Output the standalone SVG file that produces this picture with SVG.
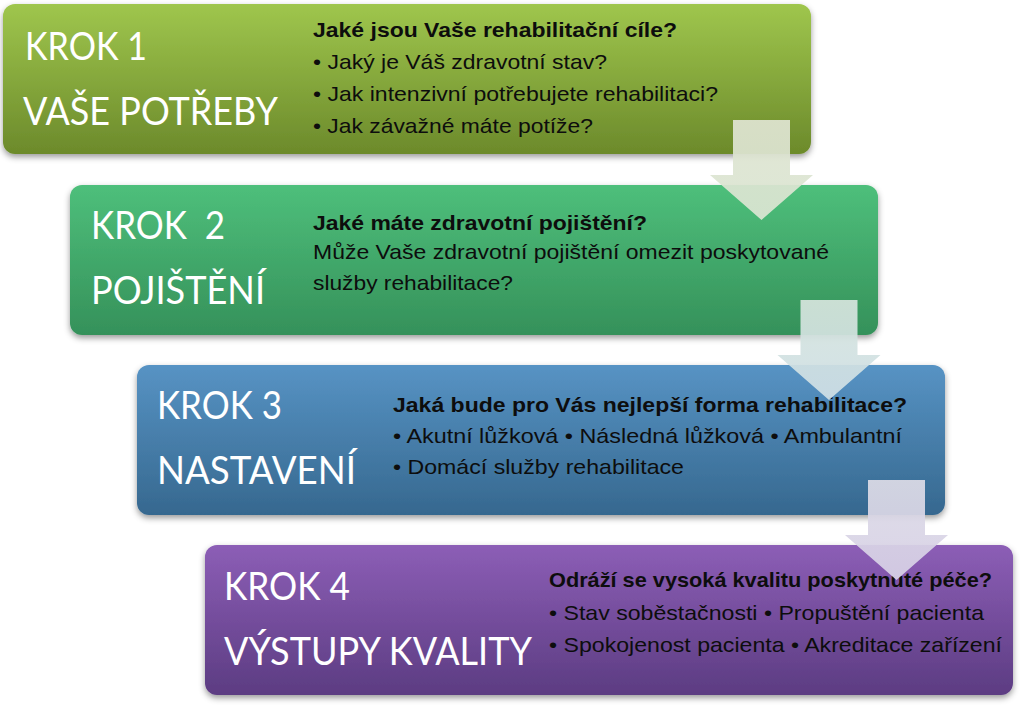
<svg xmlns="http://www.w3.org/2000/svg" width="1023" height="715" viewBox="0 0 1023 715">
<defs>
<linearGradient id="g1" x1="0" y1="0" x2="0" y2="1"><stop offset="0" stop-color="#9fc64d"/><stop offset="1" stop-color="#6c8a2b"/></linearGradient>
<linearGradient id="g2" x1="0" y1="0" x2="0" y2="1"><stop offset="0" stop-color="#4ebf7b"/><stop offset="1" stop-color="#35915a"/></linearGradient>
<linearGradient id="g3" x1="0" y1="0" x2="0" y2="1"><stop offset="0" stop-color="#5793c4"/><stop offset="1" stop-color="#36688f"/></linearGradient>
<linearGradient id="g4" x1="0" y1="0" x2="0" y2="1"><stop offset="0" stop-color="#8c5eb6"/><stop offset="1" stop-color="#5c3c82"/></linearGradient>
<linearGradient id="a1" x1="0" y1="0" x2="0" y2="1"><stop offset="0" stop-color="#dfe4d1"/><stop offset="1" stop-color="#dae5d2"/></linearGradient>
<linearGradient id="a2" x1="0" y1="0" x2="0" y2="1"><stop offset="0" stop-color="#d5e4dc"/><stop offset="1" stop-color="#cfdfe6"/></linearGradient>
<linearGradient id="a3" x1="0" y1="0" x2="0" y2="1"><stop offset="0" stop-color="#dcdbe6"/><stop offset="1" stop-color="#d7d0e6"/></linearGradient>
<filter id="sh" x="-5%" y="-10%" width="110%" height="130%"><feDropShadow dx="0" dy="3" stdDeviation="3" flood-color="#000" flood-opacity="0.4"/></filter>
</defs>
<style>
.box{filter:url(#sh)}
.title{font-family:Lato,"Open Sans","Liberation Sans",sans-serif;font-size:39px;fill:#fff}
.head{font-family:"Liberation Sans",Arial,sans-serif;font-size:21px;font-weight:bold;fill:#0d0d0d}
.body{font-family:"Liberation Sans",Arial,sans-serif;font-size:21px;fill:#0d0d0d}
.arrow{opacity:0.93}
</style>
<rect width="1023" height="715" fill="#fff"/>
<g id="step1">
<rect class="box" x="3" y="4" width="808" height="150" rx="12" fill="url(#g1)"/>
<text class="title" x="25" y="60" textLength="122" lengthAdjust="spacingAndGlyphs">KROK 1</text>
<text class="title" x="23" y="125" textLength="255" lengthAdjust="spacingAndGlyphs">VAŠE POTŘEBY</text>
<text class="head" x="313" y="37" textLength="364" lengthAdjust="spacingAndGlyphs">Jaké jsou Vaše rehabilitační cíle?</text>
<text class="body" x="313" y="69" textLength="294" lengthAdjust="spacingAndGlyphs">• Jaký je Váš zdravotní stav?</text>
<text class="body" x="313" y="101" textLength="405" lengthAdjust="spacingAndGlyphs">• Jak intenzivní potřebujete rehabilitaci?</text>
<text class="body" x="313" y="133" textLength="280" lengthAdjust="spacingAndGlyphs">• Jak závažné máte potíže?</text>
</g>
<g id="step2">
<rect class="box" x="70" y="185" width="808" height="150" rx="12" fill="url(#g2)"/>
<text class="title" x="91" y="239" textLength="134" lengthAdjust="spacingAndGlyphs" xml:space="preserve">KROK  2</text>
<text class="title" x="91" y="304" textLength="174" lengthAdjust="spacingAndGlyphs">POJIŠTĚNÍ</text>
<text class="head" x="313" y="230" textLength="334" lengthAdjust="spacingAndGlyphs">Jaké máte zdravotní pojištění?</text>
<text class="body" x="313" y="259" textLength="516" lengthAdjust="spacingAndGlyphs">Může Vaše zdravotní pojištění omezit poskytované</text>
<text class="body" x="313" y="290" textLength="200" lengthAdjust="spacingAndGlyphs">služby rehabilitace?</text>
</g>
<g id="step3">
<rect class="box" x="137" y="365" width="808" height="150" rx="12" fill="url(#g3)"/>
<text class="title" x="157" y="419" textLength="125" lengthAdjust="spacingAndGlyphs">KROK 3</text>
<text class="title" x="157" y="484" textLength="199" lengthAdjust="spacingAndGlyphs">NASTAVENÍ</text>
<text class="head" x="393" y="412" textLength="514" lengthAdjust="spacingAndGlyphs">Jaká bude pro Vás nejlepší forma rehabilitace?</text>
<text class="body" x="393" y="443" textLength="509" lengthAdjust="spacingAndGlyphs">• Akutní lůžková • Následná lůžková • Ambulantní</text>
<text class="body" x="393" y="474" textLength="291" lengthAdjust="spacingAndGlyphs">• Domácí služby rehabilitace</text>
</g>
<g id="step4">
<rect class="box" x="205" y="545" width="808" height="150" rx="12" fill="url(#g4)"/>
<text class="title" x="224" y="600" textLength="126" lengthAdjust="spacingAndGlyphs">KROK 4</text>
<text class="title" x="224" y="665" textLength="308" lengthAdjust="spacingAndGlyphs">VÝSTUPY KVALITY</text>
<text class="head" x="549" y="587" textLength="443" lengthAdjust="spacingAndGlyphs">Odráží se vysoká kvalitu poskytnuté péče?</text>
<text class="body" x="549" y="620" textLength="435" lengthAdjust="spacingAndGlyphs">• Stav soběstačnosti • Propuštění pacienta</text>
<text class="body" x="549" y="652" textLength="453" lengthAdjust="spacingAndGlyphs">• Spokojenost pacienta • Akreditace zařízení</text>
</g>
<g id="connectors">
<path class="arrow" d="M733,120 H790 V175 H813 L761.5,220 L710,175 H733 Z" fill="url(#a1)"/>
<path class="arrow" d="M800.5,300 H857.5 V355 H880.5 L829,400 L777.5,355 H800.5 Z" fill="url(#a2)"/>
<path class="arrow" d="M868,480 H925 V535 H948 L896.5,580 L845,535 H868 Z" fill="url(#a3)"/>
</g>
</svg>
